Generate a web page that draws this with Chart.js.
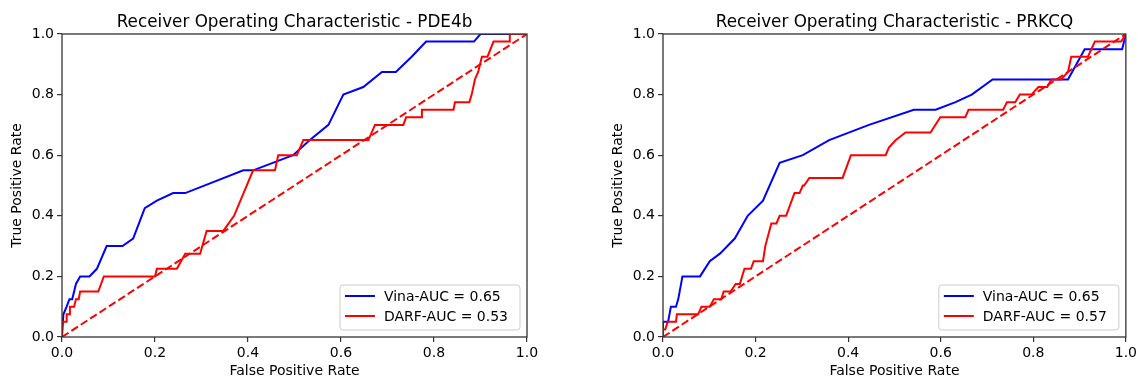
<!DOCTYPE html>
<html>
<head>
<meta charset="utf-8">
<title>ROC curves</title>
<script src="https://cdn.jsdelivr.net/npm/chart.js@4.4.1/dist/chart.umd.min.js"></script>
<style>
  html, body { margin: 0; padding: 0; background: #fff; }
  #wrap { position: relative; width: 1140px; height: 380px; overflow: hidden; }
  canvas { position: absolute; top: 0; }
  #rocLeft { left: 0; }
  #rocRight { left: 601px; }
</style>
</head>
<body>
<div id="wrap">
  <canvas id="rocLeft" width="570" height="380"></canvas>
  <canvas id="rocRight" width="539" height="380"></canvas>
</div>
<script>
// ---- data ----
const axisTicks = [0, 0.2, 0.4, 0.6, 0.8, 1.0];
const chanceLine = [0, 1];

// PDE4b
const pde4bTitle = 'Receiver Operating Characteristic - PDE4b';
const pde4bLabels = ['Vina-AUC = 0.65', 'DARF-AUC = 0.53'];
const pde4bVinaFpr = [0, 0.003, 0.01, 0.016, 0.022, 0.03, 0.039, 0.059, 0.075, 0.096, 0.13, 0.153, 0.178, 0.204, 0.239, 0.265, 0.39, 0.411, 0.497, 0.533, 0.573, 0.605, 0.648, 0.688, 0.718, 0.752, 0.783, 0.886, 0.9, 1];
const pde4bVinaTpr = [0, 0.075, 0.1, 0.125, 0.125, 0.175, 0.2, 0.2, 0.225, 0.3, 0.3, 0.325, 0.425, 0.45, 0.475, 0.475, 0.55, 0.55, 0.6, 0.65, 0.7, 0.8, 0.825, 0.875, 0.875, 0.925, 0.975, 0.975, 1, 1];
const pde4bDarfFpr = [0, 0, 0.01, 0.01, 0.017, 0.017, 0.026, 0.03, 0.036, 0.039, 0.078, 0.09, 0.2, 0.204, 0.247, 0.265, 0.297, 0.311, 0.347, 0.37, 0.411, 0.458, 0.465, 0.505, 0.519, 0.659, 0.673, 0.734, 0.74, 0.774, 0.774, 0.842, 0.845, 0.876, 0.881, 0.888, 0.895, 0.903, 0.915, 0.928, 0.962, 0.963, 1];
const pde4bDarfTpr = [0, 0.05, 0.05, 0.075, 0.075, 0.1, 0.1, 0.125, 0.125, 0.15, 0.15, 0.2, 0.2, 0.225, 0.225, 0.275, 0.275, 0.35, 0.35, 0.4, 0.55, 0.55, 0.6, 0.6, 0.65, 0.65, 0.7, 0.7, 0.725, 0.725, 0.75, 0.75, 0.775, 0.775, 0.8, 0.85, 0.875, 0.925, 0.925, 0.975, 0.975, 1, 1];

// PRKCQ
const prkcqTitle = 'Receiver Operating Characteristic - PRKCQ';
const prkcqLabels = ['Vina-AUC = 0.65', 'DARF-AUC = 0.57'];
const prkcqVinaFpr = [0, 0, 0.011, 0.017, 0.028, 0.033, 0.042, 0.08, 0.101, 0.123, 0.155, 0.183, 0.216, 0.252, 0.302, 0.359, 0.445, 0.542, 0.589, 0.632, 0.667, 0.712, 0.875, 0.911, 0.992, 1];
const prkcqVinaTpr = [0, 0.05, 0.05, 0.1, 0.1, 0.125, 0.2, 0.2, 0.25, 0.275, 0.325, 0.4, 0.45, 0.575, 0.6, 0.65, 0.7, 0.75, 0.75, 0.775, 0.8, 0.85, 0.85, 0.95, 0.95, 1];
const prkcqDarfFpr = [0, 0, 0.005, 0.01, 0.028, 0.03, 0.076, 0.083, 0.101, 0.11, 0.126, 0.131, 0.146, 0.157, 0.166, 0.176, 0.19, 0.196, 0.216, 0.221, 0.234, 0.245, 0.252, 0.266, 0.284, 0.295, 0.302, 0.305, 0.316, 0.388, 0.406, 0.481, 0.488, 0.503, 0.524, 0.578, 0.599, 0.653, 0.66, 0.735, 0.743, 0.761, 0.771, 0.796, 0.811, 0.83, 0.839, 0.86, 0.875, 0.882, 0.918, 0.933, 0.99, 1];
const prkcqDarfTpr = [0, 0.025, 0.025, 0.05, 0.05, 0.075, 0.075, 0.1, 0.1, 0.125, 0.125, 0.15, 0.15, 0.175, 0.175, 0.225, 0.225, 0.25, 0.25, 0.3, 0.375, 0.375, 0.4, 0.4, 0.475, 0.475, 0.5, 0.5, 0.525, 0.525, 0.6, 0.6, 0.625, 0.65, 0.675, 0.675, 0.725, 0.725, 0.75, 0.75, 0.775, 0.775, 0.8, 0.8, 0.825, 0.825, 0.85, 0.85, 0.875, 0.925, 0.925, 0.975, 0.975, 1];

const VINA_COLOR = '#0000ff';
const DARF_COLOR = '#ff0000';
const AXIS_COLOR = '#333333';
const FONT = '"DejaVu Sans", Verdana, sans-serif';

Chart.defaults.font.family = FONT;
Chart.defaults.font.size = 14;
Chart.defaults.color = '#000';

function toPoints(xs, ys) {
    return xs.map((x, i) => ({ x: x, y: ys[i] }));
}

// axes frame, title above the plot and the boxed legend in the lower right
const rocDecor = {
    id: 'rocDecor',
    afterDraw(chart, args, opts) {
        const ctx = chart.ctx;
        const a = chart.chartArea;
        ctx.save();

        // four spines
        ctx.strokeStyle = AXIS_COLOR;
        ctx.lineWidth = 1.3;
        ctx.strokeRect(a.left, a.top, a.right - a.left, a.bottom - a.top);

        // title
        ctx.fillStyle = '#000';
        ctx.font = '16.8px ' + FONT;
        ctx.textAlign = 'center';
        ctx.textBaseline = 'alphabetic';
        ctx.fillText(opts.title, (a.left + a.right) / 2, a.top - 7.5);

        // legend
        ctx.font = '14px ' + FONT;
        const textW = Math.max(...opts.labels.map(t => ctx.measureText(t).width));
        const w = 44 + textW + 12;
        const h = 45;
        const x = a.right - 7 - w;
        const y = a.bottom - 7 - h;
        ctx.beginPath();
        ctx.roundRect(x, y, w, h, 3);
        ctx.fillStyle = 'rgba(255,255,255,0.8)';
        ctx.fill();
        ctx.strokeStyle = '#cccccc';
        ctx.lineWidth = 1;
        ctx.stroke();

        ctx.textAlign = 'left';
        ctx.textBaseline = 'middle';
        opts.labels.forEach((label, i) => {
            const ry = y + 11 + i * 20;
            ctx.beginPath();
            ctx.moveTo(x + 5, ry);
            ctx.lineTo(x + 35, ry);
            ctx.strokeStyle = opts.colors[i];
            ctx.lineWidth = 2;
            ctx.stroke();
            ctx.fillStyle = '#000';
            ctx.fillText(label, x + 44, ry + 1);
        });
        ctx.restore();
    }
};

function axisOptions(title, isY) {
    return {
        type: 'linear',
        min: 0,
        max: 1,
        afterBuildTicks: (scale) => { scale.ticks = axisTicks.map(v => ({ value: v })); },
        afterFit: (scale) => {
            if (isY) scale.width = 62;
            else scale.height = 43;
        },
        border: { display: false },
        grid: {
            drawOnChartArea: false,
            drawTicks: true,
            tickLength: 5,
            color: AXIS_COLOR,
            lineWidth: 1.2
        },
        ticks: {
            padding: isY ? 3 : 3,
            color: '#000',
            font: { size: 14 },
            maxRotation: 0,
            callback: (v) => Number(v).toFixed(1)
        },
        title: {
            display: true,
            text: title,
            color: '#000',
            font: { size: 14 },
            padding: isY ? { top: 9 } : { bottom: 0 }
        }
    };
}

function makeRocChart(canvasId, title, labels, vinaFpr, vinaTpr, darfFpr, darfTpr, rightPad) {
    const ctx = document.getElementById(canvasId).getContext('2d');
    return new Chart(ctx, {
        type: 'line',
        data: {
            datasets: [
                {
                    label: labels[0],
                    data: toPoints(vinaFpr, vinaTpr),
                    borderColor: VINA_COLOR,
                    borderWidth: 2,
                    order: 3
                },
                {
                    label: labels[1],
                    data: toPoints(darfFpr, darfTpr),
                    borderColor: DARF_COLOR,
                    borderWidth: 2,
                    order: 2
                },
                {
                    label: 'chance',
                    data: toPoints(chanceLine, chanceLine),
                    borderColor: DARF_COLOR,
                    borderWidth: 2,
                    borderDash: [7.8, 3.4],
                    order: 1
                }
            ]
        },
        options: {
            responsive: false,
            animation: false,
            parsing: false,
            elements: {
                point: { radius: 0 },
                line: { tension: 0, fill: false, borderCapStyle: 'butt' }
            },
            layout: { padding: { left: 0, right: rightPad, top: 34, bottom: 0 } },
            scales: {
                x: axisOptions('False Positive Rate', false),
                y: axisOptions('True Positive Rate', true)
            },
            plugins: {
                legend: { display: false },
                title: { display: false },
                tooltip: { enabled: false },
                rocDecor: {
                    title: title,
                    labels: labels,
                    colors: [VINA_COLOR, DARF_COLOR]
                }
            }
        },
        plugins: [rocDecor]
    });
}

makeRocChart('rocLeft', pde4bTitle, pde4bLabels, pde4bVinaFpr, pde4bVinaTpr, pde4bDarfFpr, pde4bDarfTpr, 43);
makeRocChart('rocRight', prkcqTitle, prkcqLabels, prkcqVinaFpr, prkcqVinaTpr, prkcqDarfFpr, prkcqDarfTpr, 12);
</script>
</body>
</html>
